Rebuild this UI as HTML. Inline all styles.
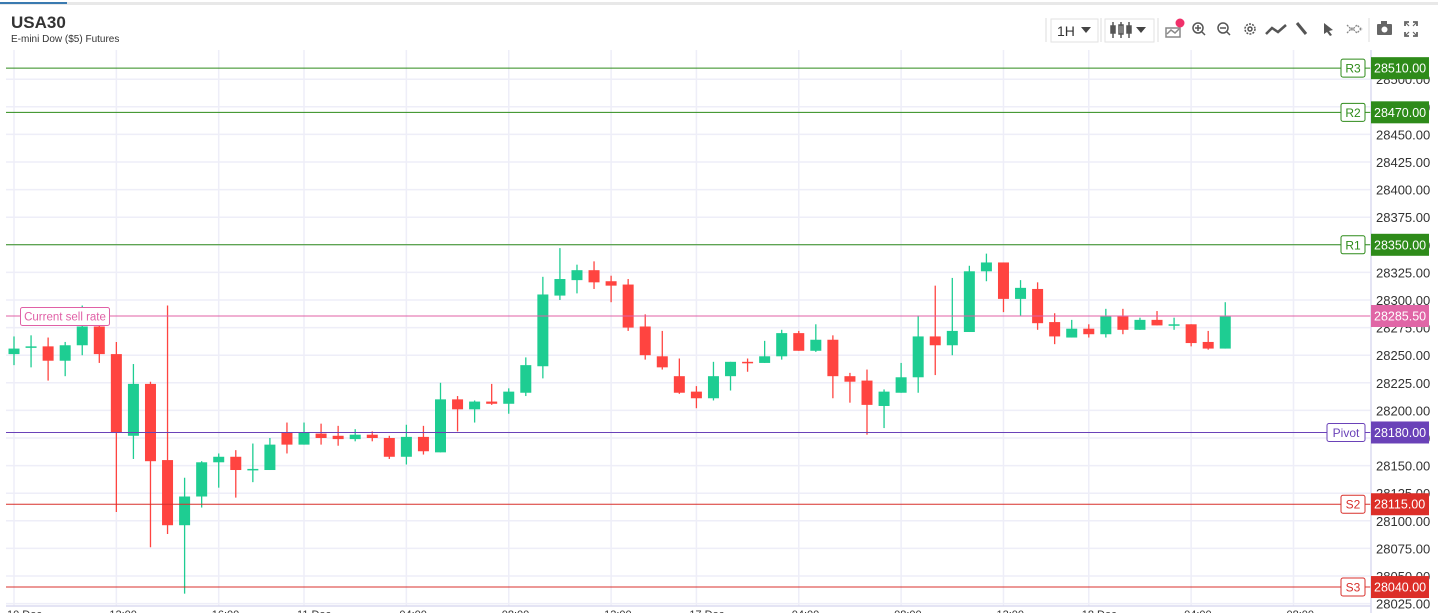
<!DOCTYPE html>
<html><head><meta charset="utf-8">
<style>
body{margin:0;background:#fff;width:1438px;height:613px;overflow:hidden;font-family:"Liberation Sans",sans-serif;}
svg{display:block}
</style></head>
<body>
<svg id="chart" width="1438" height="613" xmlns="http://www.w3.org/2000/svg" font-family="Liberation Sans, sans-serif">
<rect x="0" y="0" width="1438" height="613" fill="#fff"/>
<rect x="0" y="2" width="1438" height="3" fill="#e8e8e8"/>
<rect x="0" y="2" width="67" height="2" fill="#3a7ab0"/>
<text x="11" y="28" font-size="17" font-weight="bold" fill="#333">USA30</text>
<text x="11" y="42" font-size="10" fill="#333">E-mini Dow ($5) Futures</text>
<g fill="none" stroke="#555" stroke-width="1.5">
<line x1="1046" y1="18" x2="1046" y2="42" stroke="#ddd" stroke-width="1"/>
<rect x="1051" y="19" width="47" height="23" stroke="#e2e2e2" stroke-width="1"/>
<text x="1057" y="36" font-size="14" fill="#333" stroke="none">1H</text>
<path d="M1081 27 L1091 27 L1086 33 Z" fill="#444" stroke="none"/>
<line x1="1101" y1="18" x2="1101" y2="42" stroke="#ddd" stroke-width="1"/>
<rect x="1105" y="19" width="49" height="23" stroke="#e2e2e2" stroke-width="1"/>
<g stroke="#555" stroke-width="1.5"><line x1="1113" y1="22" x2="1113" y2="38"/><rect x="1111" y="26" width="4" height="7" fill="#555"/><line x1="1121" y1="22" x2="1121" y2="38"/><rect x="1119" y="25" width="4" height="9"/><line x1="1129" y1="22" x2="1129" y2="38"/><rect x="1127" y="26" width="4" height="7" fill="#555"/></g>
<path d="M1136 27 L1146 27 L1141 33 Z" fill="#444" stroke="none"/>
<line x1="1158" y1="18" x2="1158" y2="42" stroke="#ddd" stroke-width="1"/>
<g><rect x="1166" y="28" width="14" height="9" stroke="#888"/><path d="M1167 34 L1171 30 L1175 33 L1179 29" stroke="#888"/><circle cx="1180" cy="23" r="4.5" fill="#f0306a" stroke="none"/></g>
<g><circle cx="1198" cy="28" r="5"/><line x1="1202" y1="32" x2="1205" y2="35"/><line x1="1195" y1="28" x2="1201" y2="28"/><line x1="1198" y1="25" x2="1198" y2="31"/></g>
<g><circle cx="1223" cy="28" r="5"/><line x1="1227" y1="32" x2="1230" y2="35"/><line x1="1220" y1="28" x2="1226" y2="28"/></g>
<g><circle cx="1250" cy="29" r="5" stroke-dasharray="2 1.2"/><circle cx="1250" cy="29" r="2"/></g>
<path d="M1266 34 L1272 28 L1278 32 L1286 25" stroke-width="2.5"/>
<path d="M1297 23 L1306 34" stroke-width="3"/>
<path d="M1324 23 L1333 30 L1329 31 L1332 35 L1330 36 L1327 32 L1324 34 Z" fill="#555" stroke="none"/>
<path d="M1347 25 L1352 30 L1357 25 L1362 30 M1347 33 L1352 28 L1357 33 L1362 28" stroke="#888" stroke-width="1.3" stroke-dasharray="2 1"/>
<line x1="1369" y1="18" x2="1369" y2="42" stroke="#ddd" stroke-width="1"/>
<g><rect x="1377" y="24" width="15" height="11" fill="#666" stroke="none" rx="1"/><rect x="1381" y="21" width="6" height="4" fill="#666" stroke="none"/><circle cx="1384.5" cy="29.5" r="3" fill="#fff" stroke="none"/></g>
<g stroke="#666" stroke-width="1.8"><path d="M1405 26 V22 H1409 M1413 22 H1417 V26 M1417 32 V36 H1413 M1409 36 H1405 V32"/><path d="M1405 22 L1409 26 M1417 22 L1413 26 M1417 36 L1413 32 M1405 36 L1409 32" stroke-width="1.2"/></g>
</g>
<g id="grid"></g>
<g id="candles"></g>
<g id="levels"></g>
<g id="yaxis"></g>
<g id="xaxis"></g>
<g id="badges"></g>
</svg>
<script>
const opens  =[28251,28257,28258,28245,28259,28276,28251,28177,28224,28155,28096,28122,28153,28158,28146,28146,28180,28169,28179,28177,28174,28178,28175,28158,28176,28162,28210,28201,28208,28206,28216,28240,28304,28318,28327,28317,28314,28276,28249,28231,28217,28211,28231,28244,28243,28249,28270,28254,28264,28231,28227,28204,28216,28230,28267,28259,28271,28326,28334,28301,28310,28280,28266,28274,28269,28285,28273,28282,28277,28278,28262,28256];
const highs  =[28267,28268,28266,28262,28295,28280,28262,28242,28226,28295,28139,28154,28161,28164,28170,28175,28189,28189,28188,28186,28183,28181,28177,28187,28186,28225,28213,28209,28224,28220,28248,28321,28347,28332,28335,28322,28319,28287,28272,28247,28222,28244,28244,28247,28263,28273,28272,28278,28268,28234,28237,28219,28243,28286,28313,28320,28331,28342,28334,28318,28316,28288,28282,28278,28292,28292,28284,28290,28284,28278,28272,28298];
const lows   =[28241,28239,28227,28231,28250,28243,28108,28156,28076,28088,28034,28112,28130,28121,28135,28146,28161,28169,28169,28168,28172,28172,28156,28151,28160,28162,28181,28189,28205,28197,28213,28229,28300,28306,28310,28298,28272,28246,28237,28215,28202,28209,28218,28235,28243,28246,28254,28253,28211,28207,28178,28184,28216,28216,28232,28250,28271,28317,28289,28286,28273,28260,28266,28266,28266,28269,28273,28277,28273,28258,28255,28256];
const closes =[28256,28258,28245,28259,28276,28251,28180,28224,28154,28096,28122,28153,28158,28146,28147,28169,28169,28180,28175,28174,28178,28175,28158,28176,28163,28210,28201,28208,28206,28217,28241,28305,28319,28327,28316,28313,28275,28250,28239,28216,28211,28231,28244,28243,28249,28270,28254,28264,28231,28226,28205,28217,28230,28267,28259,28272,28326,28334,28301,28311,28279,28267,28274,28269,28285,28273,28282,28277,28278,28261,28256,28285];
const yTicks=[28025,28050,28075,28100,28125,28150,28175,28200,28225,28250,28275,28300,28325,28350,28375,28400,28425,28450,28475,28500];
const levelNames=["R3","R2","R1","Pivot","S2","S3"];
const levelValues=[28510,28470,28350,28180,28115,28040];
const levelColors=["#2e8b1a","#2e8b1a","#2e8b1a","#6a42b8","#d8302c","#d8302c"];
const currentRate=28285.5;
const xLabels=["10 Dec","12:00","16:00","11 Dec","04:00","08:00","12:00","17 Dec","04:00","08:00","12:00","18 Dec","04:00","08:00"];
const xGridIdx=[0,6,12,17,23,29,35,40,46,52,58,63,69,75];

const NS="http://www.w3.org/2000/svg";
const plotL=6,plotR=1371,plotT=50,plotB=606;
const y=p=>300-(p-28300)*1.104;
const x=i=>14+i*17.06;
function el(t,a,parent){const e=document.createElementNS(NS,t);for(const k in a)e.setAttribute(k,a[k]);parent.appendChild(e);return e;}
const grid=document.getElementById('grid');
yTicks.forEach(v=>{const l=el('line',{x1:plotL,x2:plotR,y1:y(v),y2:y(v),stroke:'#eeeef8','stroke-width':1.5},grid);

});
xGridIdx.forEach(i=>{const l=el('line',{x1:x(i),x2:x(i),y1:plotT,y2:plotB,stroke:'#eeeef8','stroke-width':1.5},grid);

});
const xa=document.getElementById('xaxis');
const ax=el('line',{x1:plotL,x2:plotR,y1:plotB,y2:plotB,stroke:'#dcdcf0','stroke-width':1.5},xa);


xGridIdx.forEach((i,k)=>{const t=el('text',{x:x(i)-7,y:618,'font-size':11,fill:'#333'},xa);t.textContent=xLabels[k];

});
const ya=document.getElementById('yaxis');
const yl=el('line',{x1:plotR,x2:plotR,y1:plotT,y2:613,stroke:'#dcdcf0','stroke-width':1.5},ya);


yTicks.forEach(v=>{const t=el('text',{x:1376,y:y(v)+5,'font-size':13,fill:'#333'},ya);t.textContent=v.toFixed(2);

});
const cg=document.getElementById('candles');
opens.forEach((o,i)=>{const c=closes[i],up=c>=o,col=up?'#1ecd92':'#ff4440';const cx=x(i);
const w=el('line',{x1:cx,x2:cx,y1:y(highs[i]),y2:y(lows[i]),stroke:col,'stroke-width':1.3},cg);


const top=y(Math.max(o,c)),h=Math.max(1.5,Math.abs(y(o)-y(c)));
const b=el('rect',{x:cx-5.5,y:top,width:11,height:h,fill:col},cg);

});
const lg=document.getElementById('levels'),bg=document.getElementById('badges');
function badge(val,col,name){const r=el('rect',{x:plotR,y:y(val)-11,width:58,height:22,fill:col},bg);


const t=el('text',{x:plotR+3,y:y(val)+4.5,'font-size':12.5,fill:'#fff'},bg);t.textContent=val.toFixed(2);

}
levelValues.forEach((v,k)=>{const col=levelColors[k];
const l=el('line',{x1:plotL,x2:plotR,y1:y(v),y2:y(v),stroke:col,'stroke-width':1},lg);


const bw=levelNames[k].length>2?38:24;
const r=el('rect',{x:plotR-6-bw,y:y(v)-9,width:bw,height:18,rx:2,fill:'#fff',stroke:col,'stroke-width':1},lg);


const t=el('text',{x:plotR-6-bw/2,y:y(v)+4.5,'font-size':12,fill:col,'text-anchor':'middle'},lg);t.textContent=levelNames[k];


badge(v,k<3?'#2e8b1a':(k==3?'#6a42b8':'#dc2e28'),levelNames[k].toLowerCase());});
const cl=el('line',{x1:plotL,x2:plotR,y1:y(currentRate),y2:y(currentRate),stroke:'#e060a6','stroke-width':1},lg);


const cr=el('rect',{x:20.5,y:y(currentRate)-8.5,width:89,height:18,rx:2,fill:'#fff',stroke:'#e060a6','stroke-width':1},lg);


const ct=el('text',{x:65,y:y(currentRate)+4.5,'font-size':11.5,fill:'#e060a6','text-anchor':'middle'},lg);ct.textContent='Current sell rate';


badge(currentRate,'#e066a6','current-sell-rate');
</script>
</body></html>
